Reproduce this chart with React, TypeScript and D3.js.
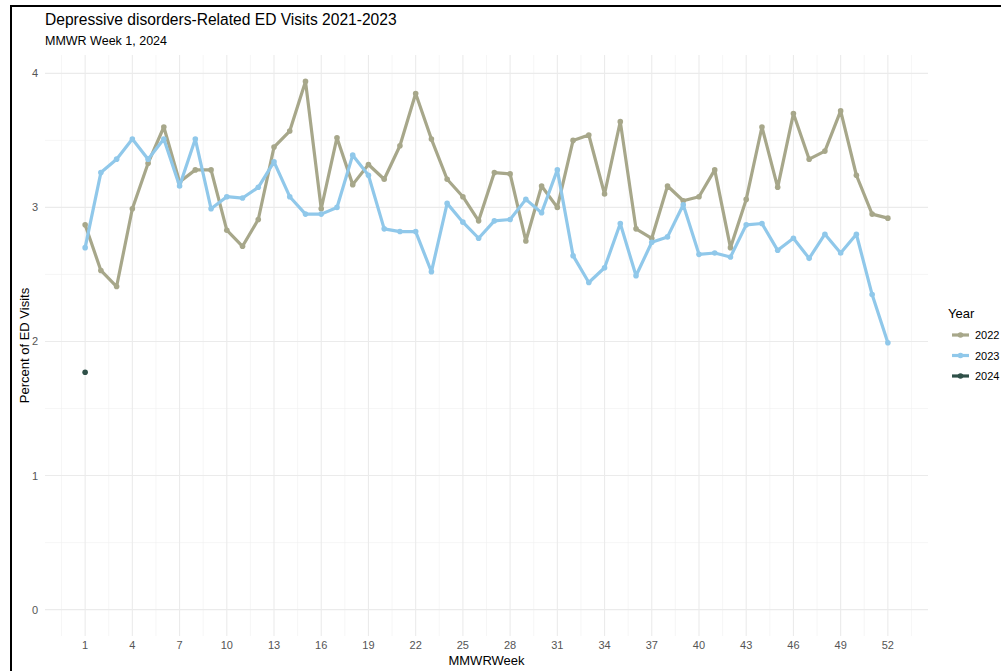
import React from 'react';
import * as d3 from 'd3';

const weeks = d3.range(1, 53);
const years = ['2022', '2023', '2024'];

const values2022 = [
  2.87, 2.53, 2.41, 2.99, 3.33, 3.60, 3.19, 3.28, 3.28, 2.83,
  2.71, 2.91, 3.45, 3.57, 3.94, 2.99, 3.52, 3.17, 3.32, 3.21,
  3.46, 3.85, 3.51, 3.21, 3.08, 2.90, 3.26, 3.25, 2.75, 3.16,
  3.00, 3.50, 3.54, 3.10, 3.64, 2.84, 2.77, 3.16, 3.05, 3.08,
  3.28, 2.70, 3.06, 3.60, 3.15, 3.70, 3.36, 3.42, 3.72, 3.24,
  2.95, 2.92
];

const values2023 = [
  2.70, 3.26, 3.36, 3.51, 3.36, 3.51, 3.16, 3.51, 2.99, 3.08,
  3.07, 3.15, 3.34, 3.08, 2.95, 2.95, 3.00, 3.39, 3.24, 2.84,
  2.82, 2.82, 2.52, 3.03, 2.89, 2.77, 2.90, 2.91, 3.06, 2.96,
  3.28, 2.64, 2.44, 2.55, 2.88, 2.49, 2.74, 2.78, 3.02, 2.65,
  2.66, 2.63, 2.87, 2.88, 2.68, 2.77, 2.62, 2.80, 2.66, 2.80,
  2.35, 1.99
];

const values2024 = [1.77];

const xTicks = d3.range(1, 53, 3);
const yTicks = [0, 1, 2, 3, 4];

const colors: Record<string, string> = {
  '2022': '#a7a78a',
  '2023': '#90c8ea',
  '2024': '#2f5048'
};

const W = 1001;
const H = 671;
const panel = { left: 45, right: 928, top: 55, bottom: 636 };

const App = () => {
  const series = [
    { year: '2022', values: values2022 },
    { year: '2023', values: values2023 },
    { year: '2024', values: values2024 }
  ];

  // ggplot style 5% expansion
  const xExt = [1, 52];
  const xPad = (xExt[1] - xExt[0]) * 0.05;
  const x = d3.scaleLinear()
    .domain([xExt[0] - xPad, xExt[1] + xPad])
    .range([panel.left, panel.right]);

  const yMax = d3.max([...values2022, ...values2023, ...values2024]) as number;
  const yPad = yMax * 0.05;
  const y = d3.scaleLinear()
    .domain([-yPad, yMax + yPad])
    .range([panel.bottom, panel.top]);

  const line = d3.line<number>()
    .x((d, i) => x(weeks[i]))
    .y(d => y(d));

  const xMinor = xTicks.map(t => t - 1.5).concat([xTicks[xTicks.length - 1] + 1.5]);
  const yMinor = [0.5, 1.5, 2.5, 3.5];

  const font = '"Liberation Sans", Arial, sans-serif';

  return (
    <svg width={W} height={H} style={{ position: 'absolute', left: 0, top: 0, background: '#fff' }}
      fontFamily={font}>
      {/* frame */}
      <line x1={11} x2={W} y1={6} y2={6} stroke="#000" strokeWidth={2} />
      <line x1={11} x2={11} y1={5} y2={H} stroke="#000" strokeWidth={2} />

      {/* grid */}
      {yMinor.map(v => (
        <line key={'ym' + v} x1={panel.left} x2={panel.right} y1={y(v)} y2={y(v)} stroke="#f0f0f0" strokeWidth={0.6} />
      ))}
      {xMinor.map(v => (
        <line key={'xm' + v} x1={x(v)} x2={x(v)} y1={panel.top} y2={panel.bottom} stroke="#f0f0f0" strokeWidth={0.6} />
      ))}
      {yTicks.map(v => (
        <line key={'y' + v} x1={panel.left} x2={panel.right} y1={y(v)} y2={y(v)} stroke="#ebebeb" strokeWidth={1.1} />
      ))}
      {xTicks.map(v => (
        <line key={'x' + v} x1={x(v)} x2={x(v)} y1={panel.top} y2={panel.bottom} stroke="#ebebeb" strokeWidth={1.1} />
      ))}

      {/* series */}
      {series.map(s => (
        <g key={s.year}>
          {s.values.length > 1 && (
            <path d={line(s.values) || ''} fill="none" stroke={colors[s.year]} strokeWidth={3.2}
              strokeLinejoin="round" strokeLinecap="round" />
          )}
          {s.values.map((v, i) => (
            <circle key={i} cx={x(weeks[i])} cy={y(v)} r={2.8} fill={colors[s.year]} />
          ))}
        </g>
      ))}

      {/* axes text */}
      {xTicks.map(v => (
        <text key={'xt' + v} x={x(v)} y={649} textAnchor="middle" fontSize={11} fill="#555">{v}</text>
      ))}
      {yTicks.map(v => (
        <text key={'yt' + v} x={38} y={y(v) + 4} textAnchor="end" fontSize={11} fill="#555">{v}</text>
      ))}
      <text x={(panel.left + panel.right) / 2} y={665} textAnchor="middle" fontSize={13} fill="#000">MMWRWeek</text>
      <text transform={`translate(29,${(panel.top + panel.bottom) / 2}) rotate(-90)`} textAnchor="middle"
        fontSize={13} fill="#000">Percent of ED Visits</text>

      {/* titles */}
      <text x={45} y={25} fontSize={15.6} fill="#000">Depressive disorders-Related ED Visits 2021-2023</text>
      <text x={45} y={45} fontSize={12.5} fill="#000">MMWR Week 1, 2024</text>

      {/* legend */}
      <text x={948} y={318} fontSize={13} fill="#000">Year</text>
      {years.map((yr, i) => (
        <g key={yr} transform={`translate(0,${335 + i * 20.5})`}>
          <line x1={952} x2={969} y1={0} y2={0} stroke={colors[yr]} strokeWidth={3.2} />
          <circle cx={960.5} cy={0} r={2.8} fill={colors[yr]} />
          <text x={975} y={4} fontSize={11} fill="#000">{yr}</text>
        </g>
      ))}
    </svg>
  );
};

export default App;
